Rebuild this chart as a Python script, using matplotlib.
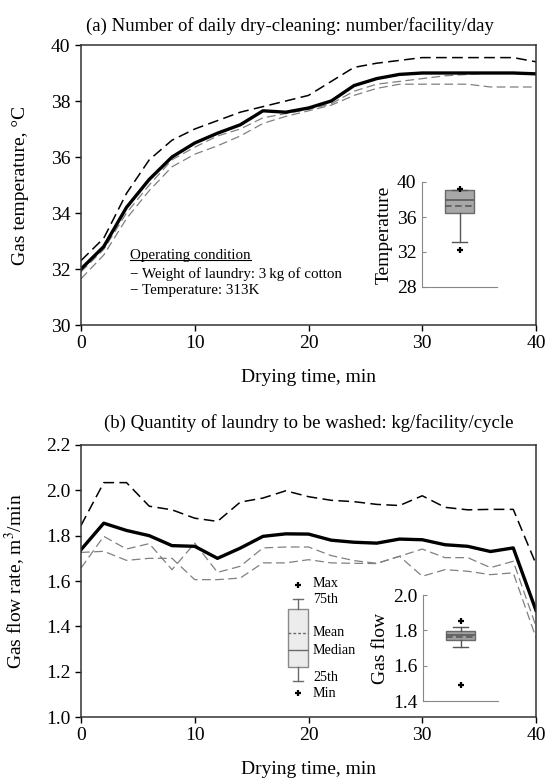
import matplotlib
matplotlib.use("Agg")
import matplotlib.pyplot as plt

plt.rcParams['font.family'] = ['Liberation Serif', 'DejaVu Serif']
plt.rcParams['mathtext.fontset'] = 'stix'

# drying time, min
time = [0, 2, 4, 6, 8, 10, 12, 14, 16, 18, 20, 22, 24, 26, 28, 30, 32, 34, 36, 38, 40]

# (a) gas temperature, deg C
temp_mean = [32.0, 32.8, 34.2, 35.2, 36.0, 36.5, 36.85, 37.15, 37.65, 37.6, 37.75,
             38.0, 38.55, 38.8, 38.95, 39.0, 39.0, 39.0, 39.0, 39.0, 38.97]
temp_high = [32.3, 33.1, 34.7, 35.9, 36.6, 37.0, 37.3, 37.6, 37.8, 38.0, 38.2,
             38.7, 39.2, 39.35, 39.45, 39.55, 39.55, 39.55, 39.55, 39.55, 39.4]
temp_mid = [31.9, 32.7, 34.0, 35.0, 35.9, 36.35, 36.75, 37.0, 37.4, 37.55, 37.7,
            37.9, 38.35, 38.6, 38.7, 38.8, 38.9, 38.95, 39.0, 39.0, 39.0]
temp_low = [31.65, 32.5, 33.8, 34.8, 35.65, 36.1, 36.4, 36.75, 37.2, 37.45, 37.65,
            37.85, 38.2, 38.45, 38.6, 38.6, 38.6, 38.6, 38.5, 38.5, 38.5]

# (b) gas flow rate, m3/min
flow_mean = [1.738, 1.855, 1.823, 1.80, 1.756, 1.753, 1.70, 1.745, 1.797, 1.808, 1.807,
             1.78, 1.771, 1.767, 1.785, 1.782, 1.76, 1.753, 1.73, 1.746, 1.47]
flow_high = [1.845, 2.034, 2.034, 1.93, 1.914, 1.877, 1.863, 1.948, 1.966, 1.998, 1.972,
             1.956, 1.95, 1.938, 1.933, 1.976, 1.925, 1.914, 1.916, 1.916, 1.675]
flow_a = [1.657, 1.797, 1.741, 1.765, 1.65, 1.767, 1.638, 1.665, 1.746, 1.75, 1.75,
          1.712, 1.69, 1.678, 1.709, 1.741, 1.703, 1.703, 1.659, 1.687, 1.40]
flow_b = [1.726, 1.731, 1.691, 1.70, 1.70, 1.606, 1.606, 1.613, 1.68, 1.68, 1.694,
          1.68, 1.678, 1.677, 1.709, 1.621, 1.65, 1.643, 1.628, 1.636, 1.35]

# inset box statistics
temp_box = dict(whislo=33.1, q1=36.4, med=37.9, mean=37.3, q3=39.05, whishi=39.1,
                fliers=[32.2, 39.2])
flow_box = dict(whislo=1.705, q1=1.743, med=1.774, mean=1.76, q3=1.798, whishi=1.819,
                fliers=[1.49, 1.851])

# key for the box plot (schematic)
key_box = dict(whislo=1.87, q1=2.9, med=4.23, mean=5.56, q3=7.36, whishi=8.13,
               fliers=[0.95, 9.23])
key_labels = ['Max', '75th', 'Mean', 'Median', '25th', 'Min']
key_levels = [9.35, 8.1, 5.55, 4.2, 2.15, 0.85]

W, H = 553, 782


def rect(l, t, r, b):
    return [l / W, 1 - b / H, (r - l) / W, (b - t) / H]


def draw_lines(ax, mean, high, mid, low):
    ax.plot(time, high, color='black', lw=1.1, dashes=(7, 3.5))
    ax.plot(time, mid, color='#808080', lw=0.9, dashes=(7, 3.5))
    ax.plot(time, low, color='#808080', lw=0.9, dashes=(7, 3.5))
    ax.plot(time, mean, color='black', lw=2.4)


def style_main(ax):
    ax.set_xlim(0, 40)
    ax.set_xticks([0, 10, 20, 30, 40])
    ax.tick_params(labelsize=14, length=4, width=1, direction='out')
    for s in ax.spines.values():
        s.set_color('#333333')
        s.set_linewidth(1.1)
    ax.set_xlabel('Drying time, min', fontsize=14, labelpad=12)


def draw_inset(ax, stats, face, ylim, yticks, ylabel):
    ax.bxp([stats], positions=[1], widths=0.75, showmeans=True, meanline=True,
           patch_artist=True,
           boxprops=dict(facecolor=face, edgecolor='#6a6a6a', lw=1),
           medianprops=dict(color='#5a5a5a', lw=1.2),
           meanprops=dict(color='#5a5a5a', lw=1.2, ls=(0, (4, 2))),
           whiskerprops=dict(color='#555555', lw=1),
           capprops=dict(color='#555555', lw=1),
           flierprops=dict(marker='+', markeredgecolor='black', markersize=5,
                           markeredgewidth=1.6))
    ax.set_xlim(0, 2)
    ax.set_ylim(*ylim)
    ax.set_yticks(yticks)
    ax.set_xticks([])
    ax.spines['top'].set_visible(False)
    ax.spines['right'].set_visible(False)
    ax.spines['left'].set_color('#888888')
    ax.spines['bottom'].set_color('#888888')
    ax.tick_params(axis='y', labelsize=14, length=3, direction='in', color='#888888', pad=4)
    ax.set_ylabel(ylabel, fontsize=14, labelpad=3)
    ax.patch.set_alpha(0)


fig = plt.figure(figsize=(W / 100, H / 100), dpi=100)

# (a)
ax1 = fig.add_axes(rect(81, 45, 536, 325))
draw_lines(ax1, temp_mean, temp_high, temp_mid, temp_low)
style_main(ax1)
ax1.set_ylim(30, 40)
ax1.set_yticks([30, 32, 34, 36, 38, 40])
ax1.set_ylabel('Gas temperature, °C', fontsize=14, labelpad=16)
ax1.set_title('(a) Number of daily dry-cleaning: number/facility/day', fontsize=13.5,
              pad=10, x=0.46)

t = ax1.text(0.108, 0.237, 'Operating condition', transform=ax1.transAxes, fontsize=10.8)
ax1.text(0.108, 0.168, '\u2212 Weight of laundry: 3\u2009kg of cotton', transform=ax1.transAxes,
         fontsize=10.8)
ax1.text(0.108, 0.11, '\u2212 Temperature: 313K', transform=ax1.transAxes, fontsize=10.8)
fig.canvas.draw()
bb = t.get_window_extent().transformed(ax1.transAxes.inverted())
ax1.plot([bb.x0, bb.x1], [bb.y0 + 0.006, bb.y0 + 0.006], transform=ax1.transAxes,
         color='black', lw=0.8)

ins1 = fig.add_axes(rect(422, 182, 497, 287))
draw_inset(ins1, temp_box, '#a8a8a8', (28, 40), [28, 32, 36, 40], 'Temperature')

# (b)
ax2 = fig.add_axes(rect(81, 445, 536, 717))
draw_lines(ax2, flow_mean, flow_high, flow_a, flow_b)
style_main(ax2)
ax2.set_ylim(1.0, 2.2)
ax2.set_yticks([1.0, 1.2, 1.4, 1.6, 1.8, 2.0, 2.2])
ax2.set_yticklabels(['1.0', '1.2', '1.4', '1.6', '1.8', '2.0', '2.2'])
ax2.set_ylabel('Gas flow rate, m$^3$/min', fontsize=14, labelpad=14)
ax2.set_title('(b) Quantity of laundry to be washed: kg/facility/cycle', fontsize=13.5, pad=12)

ins2 = fig.add_axes(rect(423, 595, 498, 701))
draw_inset(ins2, flow_box, '#a0a0a0', (1.4, 2.0), [1.4, 1.6, 1.8, 2.0], 'Gas flow')

key = fig.add_axes(rect(270, 575, 370, 705))
key.bxp([key_box], positions=[2.83], widths=2.0, showmeans=True, meanline=True,
        patch_artist=True,
        boxprops=dict(facecolor='#ececec', edgecolor='#8a8a8a', lw=1),
        medianprops=dict(color='#6a6a6a', lw=1),
        meanprops=dict(color='#6a6a6a', lw=1, ls=(0, (2, 1.5))),
        whiskerprops=dict(color='#6a6a6a', lw=1),
        capprops=dict(color='#6a6a6a', lw=1),
        flierprops=dict(marker='+', markeredgecolor='black', markersize=4,
                        markeredgewidth=1.6))
for lab, lev in zip(key_labels, key_levels):
    key.text(4.3, lev, lab, fontsize=10.2, va='center', ha='left')
key.set_xlim(0, 10)
key.set_ylim(0, 10)
key.axis('off')

fig.savefig('out.png', dpi=100)
